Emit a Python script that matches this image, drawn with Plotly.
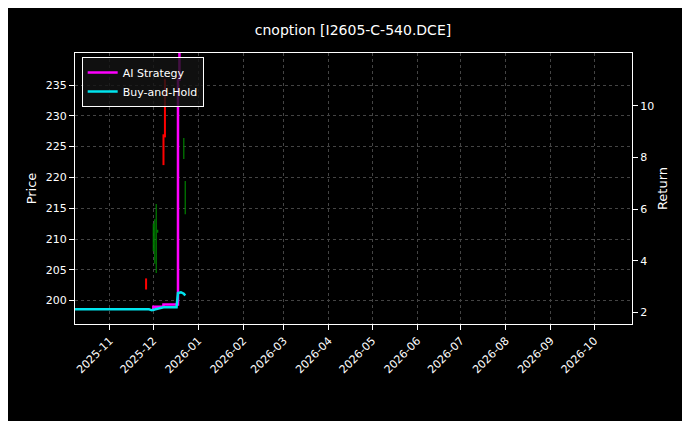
import plotly.graph_objects as go

# price bars (thin wicks)
bar_dates = ['2025-11-26', '2025-12-01', '2025-12-02', '2025-12-03', '2025-12-04', '2025-12-08', '2025-12-09', '2025-12-22', '2025-12-23']
bar_low = [201.8, 208.0, 206.0, 204.5, 211.0, 222.0, 226.5, 223.0, 214.0]
bar_high = [203.6, 212.5, 213.2, 215.7, 211.5, 227.0, 236.0, 226.4, 219.4]
bar_up = [False, True, True, True, True, False, False, True, True]

# equity curves (returns)
bh_dates = ['2025-10-08', '2025-11-28', '2025-11-30', '2025-12-08', '2025-12-17', '2025-12-18', '2025-12-20', '2025-12-22', '2025-12-23']
bh_vals = [2.12, 2.12, 2.08, 2.2, 2.2, 2.75, 2.78, 2.72, 2.65]
ai_dates = ['2025-11-30', '2025-12-01', '2025-12-07', '2025-12-08', '2025-12-17', '2025-12-18', '2025-12-19']
ai_vals = [2.1, 2.22, 2.22, 2.3, 2.3, 11.0, 13.0]

fig = go.Figure()
for up in [True, False]:
    xs, ys = [], []
    for d, lo, hi, u in zip(bar_dates, bar_low, bar_high, bar_up):
        if u == up:
            xs += [d, d, None]
            ys += [lo, hi, None]
    fig.add_trace(go.Scatter(x=xs, y=ys, mode='lines', showlegend=False,
                             line=dict(color='green' if up else 'red', width=1.2 if up else 2)))

fig.add_trace(go.Scatter(x=ai_dates, y=ai_vals, mode='lines', name='AI Strategy',
                         line=dict(color='#ff00ff', width=2.5, shape='hv'), yaxis='y2'))
fig.add_trace(go.Scatter(x=bh_dates, y=bh_vals, mode='lines', name='Buy-and-Hold',
                         line=dict(color='#00e5ee', width=2.5), yaxis='y2'))

grid = dict(showgrid=True, gridcolor='#444444', griddash='dot', gridwidth=0.6)
month_ticks = ['2025-11-01', '2025-12-01', '2026-01-01', '2026-02-01', '2026-03-01', '2026-04-01',
               '2026-05-01', '2026-06-01', '2026-07-01', '2026-08-01', '2026-09-01', '2026-10-01']
fig.update_layout(
    width=690, height=421, paper_bgcolor='black', plot_bgcolor='black',
    font=dict(family='DejaVu Sans', color='white', size=11),
    title=dict(text='cnoption [I2605-C-540.DCE]', x=0.5, y=0.96, font=dict(size=14)),
    margin=dict(l=67, r=66, t=45, b=105),
    xaxis=dict(range=['2025-10-08', '2026-10-27'], tickvals=month_ticks, tickformat='%Y-%m',
               tickangle=-45, showline=True, linecolor='white', mirror=True, ticks='outside',
               tickcolor='white', **grid),
    yaxis=dict(title=dict(text='Price', standoff=6), range=[196.2, 240.2],
               tickvals=[200, 205, 210, 215, 220, 225, 230, 235], showline=True, linecolor='white',
               mirror=True, ticks='outside', tickcolor='white', zeroline=False, **grid),
    yaxis2=dict(title=dict(text='Return', standoff=4), overlaying='y', side='right',
                range=[1.55, 12.04], tickvals=[2, 4, 6, 8, 10],
                showgrid=False, ticks='outside', tickcolor='white', zeroline=False),
    legend=dict(x=0.012, y=0.985, bgcolor='rgba(20,20,20,0.8)', bordercolor='white', borderwidth=1),
)
fig.write_html("out.html")
